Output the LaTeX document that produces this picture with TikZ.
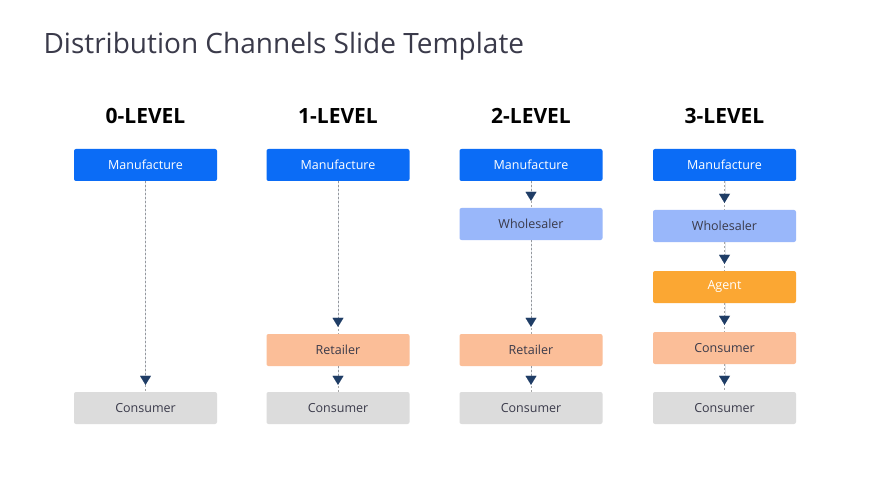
\documentclass[tikz,border=0pt]{standalone}
\usepackage{fontspec}
\setmainfont{Open Sans}
\usetikzlibrary{arrows.meta}
\definecolor{mblue}{HTML}{0B6CF6}
\definecolor{wblue}{HTML}{99B7FA}
\definecolor{rpeach}{HTML}{FBBE98}
\definecolor{aorange}{HTML}{FBA733}
\definecolor{cgray}{HTML}{DCDCDC}
\definecolor{tipc}{HTML}{1F3D66}
\definecolor{txt}{HTML}{3A3A4A}
\tikzset{
  box/.style={rounded corners=2pt,minimum width=143pt,minimum height=32pt,font=\fontsize{12.5}{14}\selectfont,text=txt},
  maker/.style={box,fill=mblue,text=white},
  whole/.style={box,fill=wblue},
  retail/.style={box,fill=rpeach},
  agent/.style={box,fill=aorange,text=white},
  cons/.style={box,fill=cgray},
  level/.style={font=\fontsize{21}{24}\selectfont\bfseries,text=black},
  dline/.style={draw=gray!70,dash pattern=on 2pt off 2pt,line width=0.6pt},
  tip/.style={draw=tipc,line width=0.01pt,-{Triangle[width=11pt,length=9pt,fill=tipc]},shorten >=7pt}
}
\begin{document}
\begin{tikzpicture}[x=1pt,y=-1pt]
\useasboundingbox[fill=white] (0,0) rectangle (870,489);
\node[anchor=west,font=\fontsize{28}{32}\selectfont,text=txt] (title) at (40,46) {Distribution Channels Slide Template};

% 0-level
\node[level] (h0) at (145.5,116) {0-LEVEL};
\node[maker] (m0) at (145.5,165) {Manufacture};
\node[cons] (c0) at (145.5,408) {Consumer};
\draw[dline] (m0) -- (c0); \draw[tip] (m0) -- (c0);

% 1-level
\node[level] (h1) at (338,116) {1-LEVEL};
\node[maker] (m1) at (338,165) {Manufacture};
\node[retail] (r1) at (338,350) {Retailer};
\node[cons] (c1) at (338,408) {Consumer};
\draw[dline] (m1) -- (r1); \draw[tip] (m1) -- (r1);
\draw[dline] (r1) -- (c1); \draw[tip] (r1) -- (c1);

% 2-level
\node[level] (h2) at (531,116) {2-LEVEL};
\node[maker] (m2) at (531,165) {Manufacture};
\node[whole] (w2) at (531,224) {Wholesaler};
\node[retail] (r2) at (531,350) {Retailer};
\node[cons] (c2) at (531,408) {Consumer};
\draw[dline] (m2) -- (w2); \draw[tip] (m2) -- (w2);
\draw[dline] (w2) -- (r2); \draw[tip] (w2) -- (r2);
\draw[dline] (r2) -- (c2); \draw[tip] (r2) -- (c2);

% 3-level
\node[level] (h3) at (724.5,116) {3-LEVEL};
\node[maker] (m3) at (724.5,165) {Manufacture};
\node[whole] (w3) at (724.5,226) {Wholesaler};
\node[agent] (a3) at (724.5,287) {Agent};
\node[retail] (k3) at (724.5,348) {Consumer};
\node[cons] (c3) at (724.5,408) {Consumer};
\draw[dline] (m3) -- (w3); \draw[tip] (m3) -- (w3);
\draw[dline] (w3) -- (a3); \draw[tip] (w3) -- (a3);
\draw[dline] (a3) -- (k3); \draw[tip] (a3) -- (k3);
\draw[dline] (k3) -- (c3); \draw[tip] (k3) -- (c3);
\end{tikzpicture}
\end{document}
